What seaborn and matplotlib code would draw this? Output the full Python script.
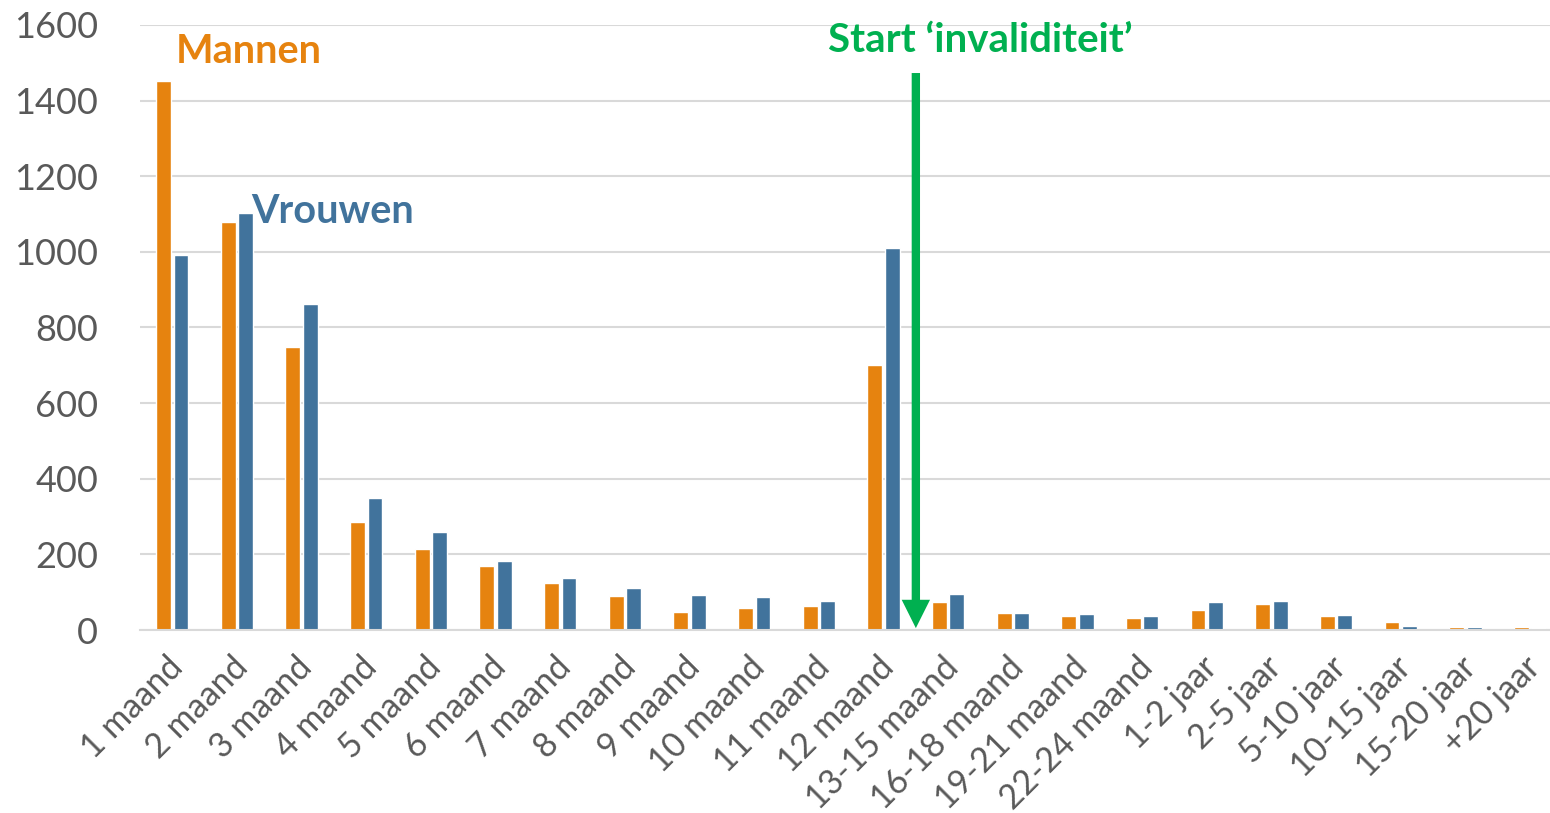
import pandas as pd
import matplotlib.pyplot as plt
import matplotlib.transforms as mtransforms
import seaborn as sns

# Values
categories = ['1 maand', '2 maand', '3 maand', '4 maand', '5 maand', '6 maand',
              '7 maand', '8 maand', '9 maand', '10 maand', '11 maand', '12 maand',
              '13-15 maand', '16-18 maand', '19-21 maand', '22-24 maand',
              '1-2 jaar', '2-5 jaar', '5-10 jaar', '10-15 jaar', '15-20 jaar', '+20 jaar']
mannen = [1452, 1080, 749, 286, 214, 169, 123, 90, 48, 58, 63, 700,
          74, 44, 36, 31, 52, 68, 37, 20, 8, 9]
vrouwen = [992, 1104, 862, 350, 258, 182, 138, 110, 93, 87, 78, 1010,
           96, 44, 42, 36, 73, 77, 39, 11, 8, 5]
yticks = [0, 200, 400, 600, 800, 1000, 1200, 1400, 1600]

orange = '#E6830F'
blue = '#41739C'
green = '#00B050'
grey_text = '#595959'

df = pd.DataFrame({
    'Duur': categories * 2,
    'Aantal': mannen + vrouwen,
    'Geslacht': ['Mannen'] * len(categories) + ['Vrouwen'] * len(categories),
})

sns.set_theme(style='white')
plt.rcParams['font.family'] = ['Lato', 'DejaVu Sans']

fig = plt.figure(figsize=(15.5, 8.13), dpi=100)
ax = fig.add_axes([140 / 1550, 1 - 630 / 813, 1 - 140 / 1550 + 0.008, (630 - 25) / 813])

sns.barplot(data=df, x='Duur', y='Aantal', hue='Geslacht', order=categories,
            palette={'Mannen': orange, 'Vrouwen': blue}, width=0.54, gap=0.15,
            saturation=1, legend=False, ax=ax)

ax.set_ylim(0, 1600)
ax.set_xlim(-0.5, len(categories) - 0.5)
ax.set_yticks(yticks)
ax.yaxis.grid(True, color='#D9D9D9', linewidth=1.5)
ax.set_axisbelow(True)
for side in ['top', 'right', 'left']:
    ax.spines[side].set_visible(False)
ax.spines['bottom'].set_color('#D9D9D9')
ax.spines['bottom'].set_linewidth(1.5)
ax.set_xlabel('')
ax.set_ylabel('')
ax.tick_params(axis='y', labelsize=26, colors=grey_text, length=0, pad=30)
ax.tick_params(axis='x', labelsize=24.5, colors=grey_text, length=0, pad=15)
shift = mtransforms.ScaledTranslation(-6 / 100, 0, fig.dpi_scale_trans)
for lab in ax.get_xticklabels():
    lab.set_rotation(45)
    lab.set_ha('right')
    lab.set_rotation_mode('anchor')
    lab.set_transform(lab.get_transform() + shift)

# annotations
ax.text(0.05, 1529, 'Mannen', color=orange, fontsize=28.5, fontweight='bold', va='center', ha='left')
ax.text(1.22, 1106, 'Vrouwen', color=blue, fontsize=28.5, fontweight='bold', va='center', ha='left')
ax.text(12.5, 1558, 'Start \u2018invaliditeit\u2019', color=green, fontsize=29,
        fontweight='bold', va='center', ha='center')
ax.annotate('', xy=(11.5, 5), xytext=(11.5, 1473),
            arrowprops=dict(arrowstyle='simple,head_length=1.7,head_width=1.7,tail_width=0.5',
                            color=green, lw=0, shrinkA=0, shrinkB=0))

plt.savefig('out.png', dpi=100)
